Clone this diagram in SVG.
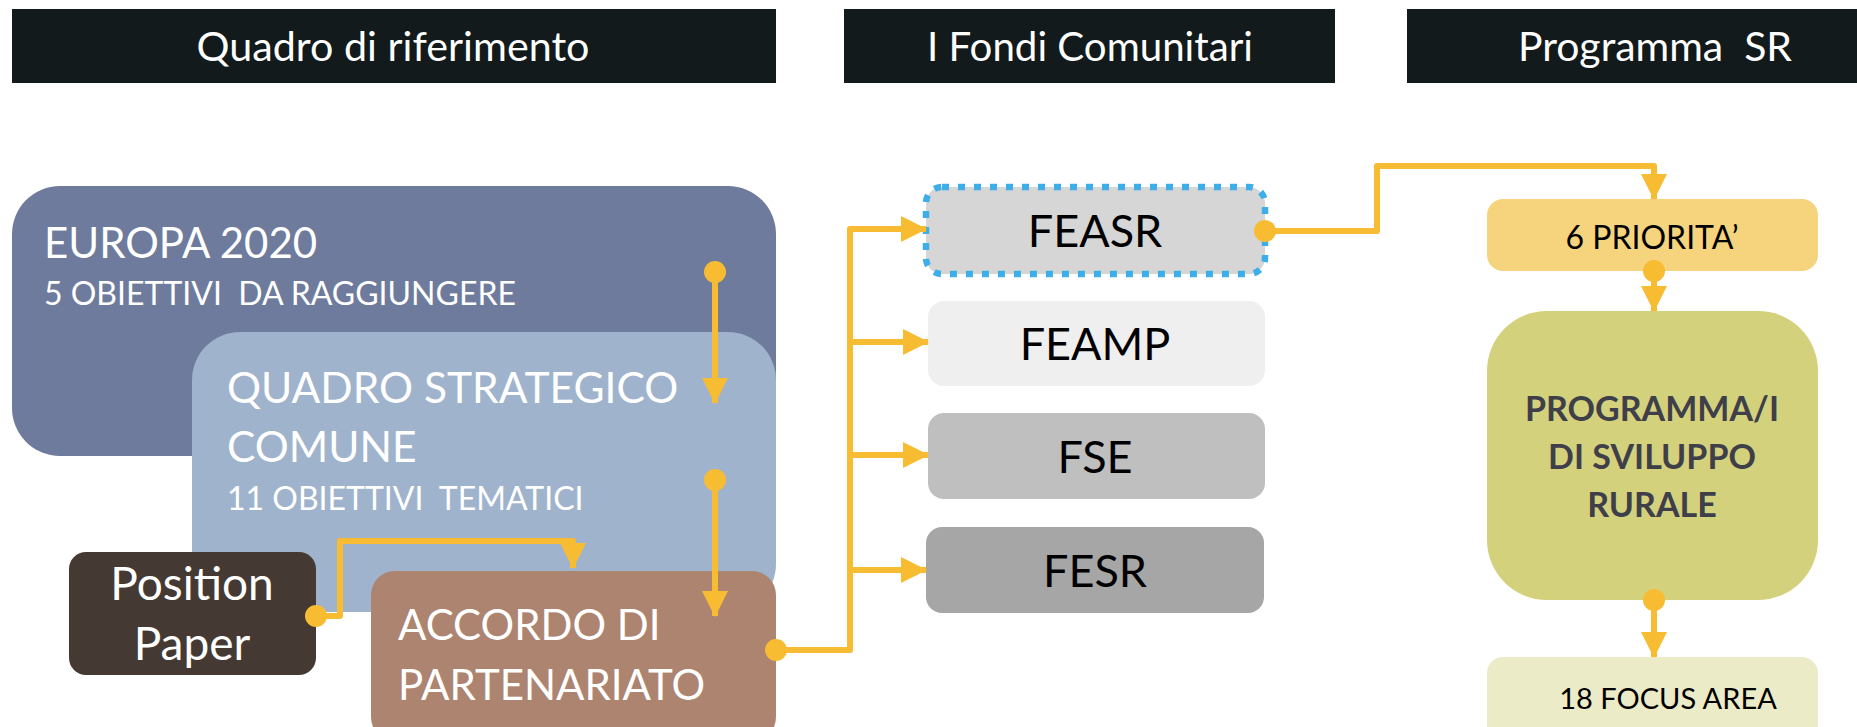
<svg xmlns="http://www.w3.org/2000/svg" width="1857" height="727" viewBox="0 0 1857 727">
<defs>
<style>
.hdr{fill:#121a1c}
.ht{font-family:Lato,"Liberation Sans",sans-serif;font-size:40px;fill:#ffffff;text-anchor:middle}
.wt{font-family:Lato,"Liberation Sans",sans-serif;fill:#ffffff}
.bt{font-family:Lato,"Liberation Sans",sans-serif;fill:#000000;text-anchor:middle}
.pt{font-family:Lato,"Liberation Sans",sans-serif;fill:#3f3f4a;text-anchor:middle;font-weight:bold;font-size:34px}
.conn{fill:none;stroke:#f8bc33;stroke-width:6;stroke-linejoin:round}
</style>
<marker id="arr" markerUnits="userSpaceOnUse" markerWidth="26" markerHeight="26" viewBox="0 0 26 26" refX="25" refY="13" orient="auto">
<path d="M0,0 L26,13 L0,26 z" fill="#f8bc33"/>
</marker>
<marker id="dot" markerUnits="userSpaceOnUse" markerWidth="24" markerHeight="24" viewBox="0 0 24 24" refX="12" refY="12">
<circle cx="12" cy="12" r="11" fill="#f8bc33"/>
</marker>
</defs>
<rect width="1857" height="727" fill="#ffffff"/>
<g id="header-quadro"><rect class="hdr" x="12" y="9" width="764" height="74"/><text class="ht" x="393" y="61" textLength="393" lengthAdjust="spacingAndGlyphs">Quadro di riferimento</text></g>
<g id="header-fondi"><rect class="hdr" x="844" y="9" width="491" height="74"/><text class="ht" x="1090" y="61" textLength="326" lengthAdjust="spacingAndGlyphs">I Fondi Comunitari</text></g>
<g id="header-programma"><rect class="hdr" x="1407" y="9" width="450" height="74"/><text class="ht" x="1655" y="61" textLength="274" lengthAdjust="spacingAndGlyphs" xml:space="preserve">Programma  SR</text></g>

<g id="europa2020"><rect x="12" y="186" width="764" height="270" rx="48" fill="#6e7b9c"/>
<text class="wt" x="44" y="258" font-size="42">EUROPA 2020</text>
<text class="wt" x="44" y="305" font-size="32" xml:space="preserve">5 OBIETTIVI  DA RAGGIUNGERE</text></g>

<g id="qsc"><rect x="192" y="332" width="584" height="280" rx="48" fill="#9fb3cc"/>
<text class="wt" x="227" y="403" font-size="42.5">QUADRO STRATEGICO</text>
<text class="wt" x="227" y="462" font-size="42.5">COMUNE</text>
<text class="wt" x="227" y="510" font-size="32" xml:space="preserve">11 OBIETTIVI  TEMATICI</text></g>

<g id="position-paper"><rect x="69" y="552" width="247" height="123" rx="17" fill="#453a33"/>
<text class="wt" x="192" y="600" font-size="46" text-anchor="middle">Position</text>
<text class="wt" x="192" y="660" font-size="46" text-anchor="middle">Paper</text></g>

<g id="accordo"><rect x="371" y="571" width="405" height="170" rx="24" fill="#ad8470"/>
<text class="wt" x="398" y="640" font-size="42">ACCORDO DI</text>
<text class="wt" x="398" y="700" font-size="42">PARTENARIATO</text></g>

<g id="feasr"><rect x="926" y="187" width="339" height="87" rx="16" fill="#d6d6d6" stroke="#3daee9" stroke-width="6.5" stroke-dasharray="7 9"/>
<text class="bt" x="1095" y="247" font-size="45">FEASR</text></g>
<g id="feamp"><rect x="928" y="301" width="337" height="85" rx="16" fill="#efefef"/>
<text class="bt" x="1095" y="360" font-size="45">FEAMP</text></g>
<g id="fse"><rect x="928" y="413" width="337" height="86" rx="16" fill="#bfbfbf"/>
<text class="bt" x="1095" y="473" font-size="45">FSE</text></g>
<g id="fesr"><rect x="926" y="527" width="338" height="86" rx="16" fill="#a6a6a6"/>
<text class="bt" x="1095" y="587" font-size="45">FESR</text></g>

<g id="priorita"><rect x="1487" y="199" width="331" height="72" rx="16" fill="#f6d47e"/>
<text class="bt" x="1652" y="249" font-size="32">6 PRIORITA’</text></g>
<g id="programma-sr"><rect x="1487" y="311" width="331" height="289" rx="60" fill="#d4d17d"/>
<text class="pt" x="1652" y="421">PROGRAMMA/I</text>
<text class="pt" x="1652" y="469">DI SVILUPPO</text>
<text class="pt" x="1652" y="517">RURALE</text></g>
<g id="focus-area"><rect x="1487" y="657" width="331" height="90" rx="16" fill="#ecebc8"/>
<text class="bt" x="1668" y="709" font-size="29">18 FOCUS AREA</text></g>

<g id="connectors">
<path class="conn" d="M715,272 L715,403" marker-start="url(#dot)" marker-end="url(#arr)"/>
<path class="conn" d="M715,480 L715,616" marker-start="url(#dot)" marker-end="url(#arr)"/>
<path class="conn" d="M316,616 L340,616 L340,541 L573,541 L573,568" marker-start="url(#dot)" marker-end="url(#arr)"/>
<path class="conn" d="M776,650 L850,650 L850,229 L926,229" marker-start="url(#dot)" marker-end="url(#arr)"/>
<path class="conn" d="M850,342 L928,342" marker-end="url(#arr)"/>
<path class="conn" d="M850,455 L928,455" marker-end="url(#arr)"/>
<path class="conn" d="M850,570 L926,570" marker-end="url(#arr)"/>
<path class="conn" d="M1265,231 L1377,231 L1377,166 L1654,166 L1654,199" marker-start="url(#dot)" marker-end="url(#arr)"/>
<path class="conn" d="M1654,271 L1654,311" marker-start="url(#dot)" marker-end="url(#arr)"/>
<path class="conn" d="M1654,600 L1654,657" marker-start="url(#dot)" marker-end="url(#arr)"/>
</g>
</svg>
